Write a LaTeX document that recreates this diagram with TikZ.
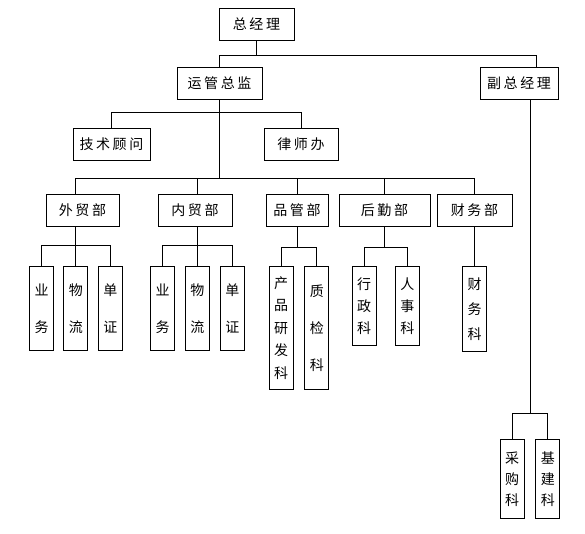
\documentclass[tikz,border=0pt]{standalone}
\usepackage{fontspec}
\newfontfamily\cjk[LetterSpace=18]{Noto Sans CJK SC}
\newfontfamily\cjkv{Noto Sans CJK SC}
\usetikzlibrary{positioning}

\begin{document}
\begin{tikzpicture}[
        x=1pt, y=-1pt,
        line width=0.9pt,
        unit/.style = {draw, minimum height=32, inner sep=0pt, font=\cjk\fontsize{14}{16}\selectfont},
        sub/.style 2 args = {draw, anchor=north, minimum width=24, minimum height=#1, inner sep=0pt,
                             align=center, font=\cjkv\fontsize{14}{#2}\selectfont}
    ]
    \useasboundingbox (0,0) rectangle (585,534);
    % top level
    \node[unit, minimum width=75] (gm)  at (256.5,24)  {总经理};
    \node[unit, minimum width=85] (ops) at (219.5,83)  {运管总监};
    \node[unit, minimum width=78] (vgm) at (519,83.5)  {副总经理};
    \node[unit, minimum width=77] (jishu) at (111.5,144) {技术顾问};
    \node[unit, minimum width=74] (lvshi) at (301,144)   {律师办};
    % departments
    \node[unit, minimum width=73] (waimao)  at (82.5,210)  {外贸部};
    \node[unit, minimum width=74] (neimao)  at (195,210)   {内贸部};
    \node[unit, minimum width=62] (pinguan) at (297,210)   {品管部};
    \node[unit, minimum width=91] (houqin)  at (384.5,210) {后勤部};
    \node[unit, minimum width=75] (caiwu)   at (474.5,210) {财务部};
    % sections
    \node[sub={84}{37}]                    (wyw) at (41.5,266) {业\\务};
    \node[sub={84}{37}, right=9.5 of wyw]  (wwl) {物\\流};
    \node[sub={84}{37}, right=9.5 of wwl]  (wdz) {单\\证};
    \node[sub={84}{37}]                    (nyw) at (162.5,266) {业\\务};
    \node[sub={84}{37}, right=10 of nyw]   (nwl) {物\\流};
    \node[sub={84}{37}, right=10 of nwl]   (ndz) {单\\证};
    \node[sub={123}{22.5}]                 (yanfa) at (281,266) {产\\品\\研\\发\\科};
    \node[sub={123}{37}, right=11 of yanfa] (zhijian) {质\\检\\科};
    \node[sub={79}{22}]                    (xingzheng) at (364,266) {行\\政\\科};
    \node[sub={79}{22}, right=18.5 of xingzheng] (renshi) {人\\事\\科};
    \node[sub={85}{25}]                    (caiwuke) at (474.5,266) {财\\务\\科};
    \node[sub={79}{21}]                    (caigou) at (512,439) {采\\购\\科};
    \node[sub={79}{21}, right=11 of caigou] (jijian) {基\\建\\科};

    % connectors
    \draw (gm.south) -- ++(0,15) -| (ops.north);
    \draw (gm.south) ++(0,15) -| ([xshift=17]vgm.north);
    \draw (ops.south) -- ++(0,79) coordinate (deptbar);
    \draw (ops.south) ++(0,13) coordinate (staffbar);
    \draw (jishu.north) |- (staffbar) -| (lvshi.north);
    \draw (waimao.north -| wwl.north) |- (deptbar) -| (caiwu.north);
    \draw (neimao.north -| nwl.north) -- (deptbar -| nwl.north);
    \foreach \d in {pinguan, houqin}
        \draw (\d.north) -- (\d.north |- deptbar);
    \draw (waimao.south -| wwl.north) -- (wwl.north);
    \draw (wyw.north) -- ++(0,-21) -| (wdz.north);
    \draw (neimao.south -| nwl.north) -- (nwl.north);
    \draw (nyw.north) -- ++(0,-21) -| (ndz.north);
    \draw (pinguan.south) -- ++(0,21) -| (yanfa.north);
    \draw (pinguan.south) ++(0,21) -| (zhijian.north);
    \draw (houqin.south) -- ++(0,21) -| (xingzheng.north);
    \draw (houqin.south) ++(0,21) -| (renshi.north);
    \draw (caiwu.south) -- (caiwuke.north);
    \draw ([xshift=11]vgm.south) -- ++(0,313) coordinate (vbar);
    \draw (caigou.north) |- (vbar) -| (jijian.north);
\end{tikzpicture}
\end{document}
